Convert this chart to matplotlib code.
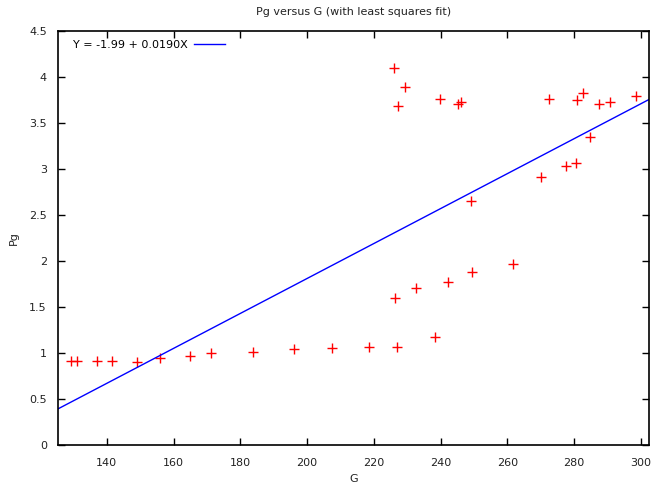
import matplotlib
matplotlib.use("Agg")
import matplotlib.pyplot as plt
import numpy as np

# Data
g_values = [129.3, 131.1, 137.0, 141.6, 149.0, 156.0, 165.0, 171.2, 183.7, 196.1,
            207.6, 218.6, 227.0, 238.2, 226.2, 232.7, 242.1, 249.5, 261.8,
            225.9, 229.2, 227.1, 239.9, 245.1, 246.2, 272.4, 280.8, 282.6, 287.3,
            290.7, 298.4, 284.6, 277.4, 280.6, 270.0, 249.2]
pg_values = [0.916, 0.909, 0.912, 0.912, 0.904, 0.948, 0.966, 0.995, 1.006, 1.042,
             1.050, 1.061, 1.068, 1.176, 1.593, 1.702, 1.774, 1.876, 1.963,
             4.102, 3.892, 3.685, 3.761, 3.704, 3.733, 3.761, 3.747, 3.831, 3.711,
             3.725, 3.791, 3.349, 3.034, 3.060, 2.918, 2.650]
fit_intercept = -1.99
fit_slope = 0.0190
x_ticks = [140, 160, 180, 200, 220, 240, 260, 280, 300]
y_ticks = [0, 0.5, 1, 1.5, 2, 2.5, 3, 3.5, 4, 4.5]
y_tick_labels = ["0", "0.5", "1", "1.5", "2", "2.5", "3", "3.5", "4", "4.5"]
legend_label = "Y = -1.99 + 0.0190X"

plt.rcParams['font.family'] = ['DejaVu Sans']
FS = 8

fig = plt.figure(figsize=(6.52, 4.86), dpi=100)
ax = fig.add_axes([58/652, 1-445/486, (649-58)/652, (445-31)/486])

xmin, xmax = 125.4, 302.4
ax.set_xlim(xmin, xmax)
ax.set_ylim(0, 4.5)

ax.plot(g_values, pg_values, linestyle='none', marker='+', color='red',
        markersize=7.5, markeredgewidth=1.0)
xs = np.array([xmin, xmax])
ax.plot(xs, fit_intercept + fit_slope * xs, color='blue', linewidth=1.0,
        label=legend_label)

ax.set_xticks(x_ticks)
ax.set_xticklabels([str(t) for t in x_ticks])
ax.set_yticks(y_ticks)
ax.set_yticklabels(y_tick_labels)
ax.tick_params(direction='in', top=True, right=True, length=5, width=1,
               labelsize=FS, labelcolor='#222222')
ax.tick_params(axis='x', pad=9)
ax.tick_params(axis='y', pad=8)
for s in ax.spines.values():
    s.set_linewidth(1.2)

fig.text(353.5/652, 1-12/486, "Pg versus G (with least squares fit)",
         fontsize=FS, ha='center', va='center', color='#222222')
fig.text(353.5/652, 1-479/486, "G", fontsize=FS, ha='center', va='center',
         color='#222222')
fig.text(14/652, 1-238/486, "Pg", fontsize=FS, ha='center', va='center',
         rotation=90, color='#222222')

leg = ax.legend(loc='upper left', bbox_to_anchor=(0.025, 0.978), frameon=False,
                fontsize=FS, markerfirst=False, handlelength=2.8,
                borderaxespad=0, borderpad=0, handletextpad=0.6)

fig.savefig("out.png", dpi=100)
